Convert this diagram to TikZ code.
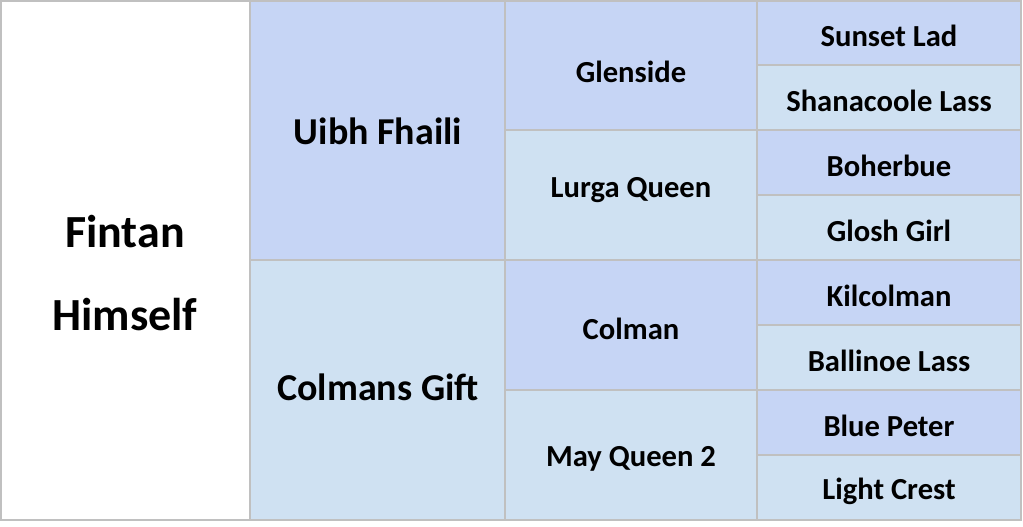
\documentclass[tikz,border=0pt]{standalone}
\usepackage{fontspec}
\setmainfont{Carlito}
\definecolor{dk}{RGB}{198,213,245}
\definecolor{lt}{RGB}{207,225,242}
\definecolor{grid}{RGB}{192,192,192}
\begin{document}
\begin{tikzpicture}[x=1pt,y=-1pt,
  cell/.style={draw=grid,line width=2pt},
  lbl/.style={font=\bfseries,inner sep=0pt,anchor=center},
  big/.style={lbl,font=\fontsize{46}{52}\selectfont\bfseries},
  mid/.style={lbl,font=\fontsize{38}{42}\selectfont\bfseries},
  sm/.style={lbl,font=\fontsize{30.6}{34}\selectfont\bfseries}]
\useasboundingbox (0,0) rectangle (1023,527);
% cells
\fill[white] (1,1) rectangle (250,520);
\fill[dk] (250,1) rectangle (505,260);
\fill[lt] (250,260) rectangle (505,520);
\fill[dk] (505,1) rectangle (757,130);
\fill[lt] (505,130) rectangle (757,260);
\fill[dk] (505,260) rectangle (757,390);
\fill[lt] (505,390) rectangle (757,520);
\foreach \i in {0,1,2,3}{
  \fill[dk] (757,{1+130*\i}) rectangle (1021,{65+130*\i});
  \fill[lt] (757,{65+130*\i}) rectangle (1021,{130+130*\i});
}
% grid lines
\draw[cell] (1,1) rectangle (1021,520);
\draw[cell] (250,1) -- (250,520);
\draw[cell] (505,1) -- (505,520);
\draw[cell] (757,1) -- (757,520);
\draw[cell] (250,260) -- (1021,260);
\draw[cell] (505,130) -- (1021,130);
\draw[cell] (505,390) -- (1021,390);
\foreach \y in {65,195,325,455}{\draw[cell] (757,\y) -- (1021,\y);}
% labels
\node[big] (f1) at (125,232) {Fintan};
\node[big] (f2) at (125,315) {Himself};
\node[mid] (s) at (378,131) {Uibh Fhaili};
\node[mid] (d) at (378,387) {Colmans Gift};
\node[sm] (ss) at (631,72) {Glenside};
\node[sm] (sd) at (631,190) {Lurga Queen};
\node[sm] (ds) at (631,329) {Colman};
\node[sm] (dd) at (631,459) {May Queen 2};
\node[sm] (a1) at (889,36) {Sunset Lad};
\node[sm] (a2) at (889,101) {Shanacoole Lass};
\node[sm] (a3) at (889,166) {Boherbue};
\node[sm] (a4) at (889,231) {Glosh Girl};
\node[sm] (a5) at (889,296) {Kilcolman};
\node[sm] (a6) at (889,361) {Ballinoe Lass};
\node[sm] (a7) at (889,426) {Blue Peter};
\node[sm] (a8) at (889,491) {Light Crest};
\end{tikzpicture}
\end{document}
